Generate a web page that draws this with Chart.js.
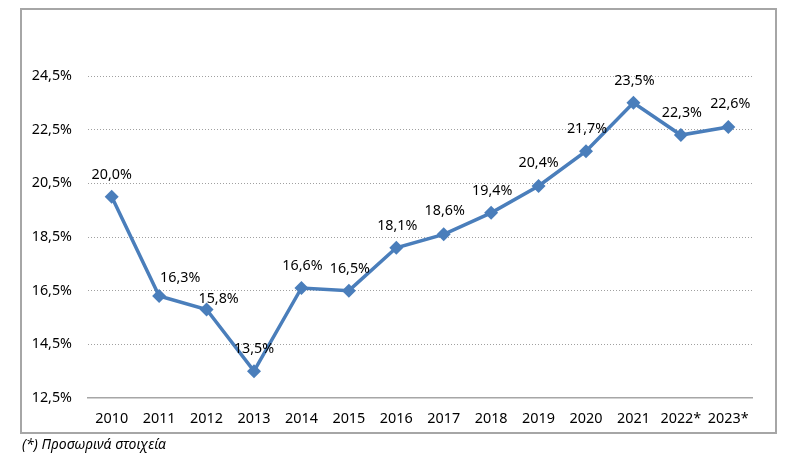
<!DOCTYPE html>
<html>
<head>
<meta charset="utf-8">
<script src="https://cdn.jsdelivr.net/npm/chart.js@4.4.1/dist/chart.umd.min.js"></script>
<style>
  html, body { margin: 0; padding: 0; background: #fff; }
  #wrap { position: relative; width: 796px; height: 463px; overflow: hidden; }
  #frame { position: absolute; left: 20px; top: 8px; width: 753px; height: 422px; border: 2px solid #a6a6a6; }
  #chart { position: absolute; left: 0; top: 0; }
  #note { position: absolute; left: 22px; top: 434px; font: italic 14px "Noto Sans", sans-serif; color: #000; }
</style>
</head>
<body>
<div id="wrap">
  <div id="frame"></div>
  <canvas id="chart" width="796" height="463"></canvas>
  <div id="note">(*) Προσωρινά στοιχεία</div>
</div>
<script>
const years = ["2010", "2011", "2012", "2013", "2014", "2015", "2016", "2017", "2018", "2019", "2020", "2021", "2022*", "2023*"];
const rates = [20.0, 16.3, 15.8, 13.5, 16.6, 16.5, 18.1, 18.6, 19.4, 20.4, 21.7, 23.5, 22.3, 22.6];
const yTicks = [12.5, 14.5, 16.5, 18.5, 20.5, 22.5, 24.5];

// label offsets from each point (style only)
const labelDx = [0, 21, 12, 0, 1, 1, 1, 1, 1, 0, 1, 1, 1, 2];
const labelDy = [-22, -18, -11, -22, -22, -22, -22, -23, -22, -23, -22, -22, -22, -23];

const fmt = v => v.toFixed(1).replace('.', ',') + '%';

const valueLabels = {
    id: 'valueLabels',
    afterDatasetsDraw(chart) {
        const ctx = chart.ctx;
        const meta = chart.getDatasetMeta(0);
        ctx.save();
        ctx.font = '14.3px "Noto Sans", sans-serif';
        ctx.fillStyle = '#000';
        ctx.textAlign = 'center';
        ctx.textBaseline = 'middle';
        meta.data.forEach((pt, i) => {
            ctx.fillText(fmt(rates[i]), pt.x + labelDx[i], pt.y + labelDy[i]);
        });
        ctx.restore();
    }
};

new Chart(document.getElementById("chart").getContext("2d"), {
    type: "line",
    data: {
        labels: years,
        datasets: [{
            data: rates,
            borderColor: "#4a7ebb",
            backgroundColor: "#4a7ebb",
            borderWidth: 3.5,
            tension: 0,
            pointStyle: "rectRot",
            pointRadius: 7,
            pointBorderWidth: 0,
            pointBackgroundColor: "#4a7ebb"
        }]
    },
    options: {
        responsive: false,
        animation: false,
        layout: { padding: { left: 20, right: 44, top: 76, bottom: 25 } },
        scales: {
            x: {
                offset: true,
                grid: { display: false, drawTicks: false },
                border: { display: true, color: "#a6a6a6", width: 1.5 },
                ticks: {
                    color: "#000",
                    padding: 12,
                    maxRotation: 0,
                    autoSkip: false,
                    font: { family: "Noto Sans", size: 14.4 }
                },
                afterFit: s => { s.height = 40; }
            },
            y: {
                min: 12.5,
                max: 24.5,
                afterBuildTicks: s => { s.ticks = yTicks.map(v => ({ value: v })); },
                grid: {
                    drawTicks: false,
                    color: c => Math.abs(c.tick.value - 12.5) < 0.01 ? "rgba(0,0,0,0)" : "#a0a0a0",
                    lineWidth: 1
                },
                border: { display: false, dash: [1, 2] },
                ticks: {
                    color: "#000",
                    padding: 16,
                    callback: v => fmt(v),
                    font: { family: "Noto Sans", size: 14.3 }
                },
                afterFit: s => { s.width = 68; }
            }
        },
        plugins: {
            legend: { display: false },
            tooltip: { enabled: false }
        }
    },
    plugins: [valueLabels]
});
</script>
</body>
</html>
